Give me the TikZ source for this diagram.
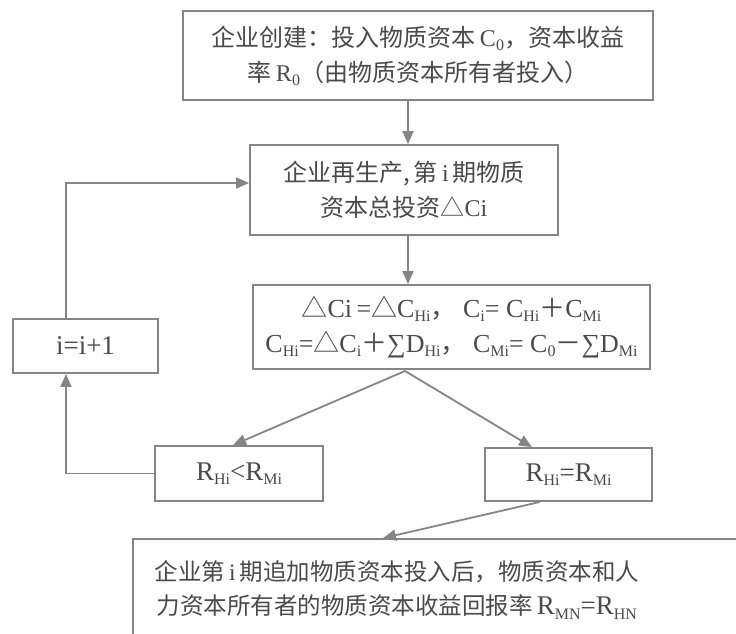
\documentclass[tikz,border=0pt]{standalone}
\usepackage{fontspec}
\setmainfont{Liberation Serif}
\newfontfamily\cjk{Noto Sans CJK SC}
\usetikzlibrary{arrows.meta}
\definecolor{ink}{HTML}{4A4A4A}
\definecolor{linec}{HTML}{858585}
\newcommand{\sbs}[1]{\raisebox{-0.35ex}{\fontsize{16}{16}\selectfont #1}}
\newcommand{\zh}[1]{{\cjk #1}}
\tikzset{
  box/.style={draw=linec, line width=1.8pt, text=ink, align=center, inner sep=0pt, font=\fontsize{24}{37}\selectfont},
  conn/.style={draw=linec, line width=1.8pt, -{Triangle[length=13pt,width=11pt]}},
}
\begin{document}
\begin{tikzpicture}[x=1pt,y=-1pt]
\clip (0,0) rectangle (736,633);
\fill[white] (0,0) rectangle (736,633);
\node[box, minimum width=470pt, minimum height=89pt] (b1) at (418,55.5)
  {\zh{企业创建：投入物质资本}\,C\sbs{0}\zh{，资本收益}\\[-2pt]\zh{率}\,R\sbs{0}\zh{（由物质资本所有者投入）}};
\node[box, minimum width=308pt, minimum height=90pt] (b2) at (404,190)
  {\zh{企业再生产,\,第}\,i\,\zh{期物质}\\[-2pt]\zh{资本总投资△}Ci};
\node[box, minimum width=397pt, minimum height=84pt, font=\fontsize{26}{35}\selectfont] (b3) at (451.5,327)
  {\zh{△}Ci\,=\zh{△}C\sbs{Hi}\zh{，}\ C\sbs{i}= C\sbs{Hi}\zh{＋}C\sbs{Mi}\\
   C\sbs{Hi}=\zh{△}C\sbs{i}\zh{＋}∑D\sbs{Hi}\zh{，}\ C\sbs{Mi}= C\sbs{0}\zh{－}∑D\sbs{Mi}};
\node[box, minimum width=145pt, minimum height=54pt, font=\fontsize{27}{30}\selectfont] (bi) at (85.5,346) {i=i+1};
\node[box, minimum width=168pt, minimum height=55pt, font=\fontsize{27}{30}\selectfont] (rl) at (239,473.5) {R\sbs{Hi}<R\sbs{Mi}};
\node[box, minimum width=167pt, minimum height=53pt, font=\fontsize{27}{30}\selectfont] (rr) at (568.5,474.5) {R\sbs{Hi}=R\sbs{Mi}};
\node[box, minimum width=612pt, minimum height=106pt] (b4) at (439,592) {};
\node[text=ink, align=center, inner sep=0pt, font=\fontsize{23.5}{36}\selectfont] (b4t) at (397,590)
  {\zh{企业第}\,i\,\zh{期追加物质资本投入后，物质资本和人}\\[-2pt]\zh{力资本所有者的物质资本收益回报率}\,{\fontsize{27}{36}\selectfont R\sbs{MN}=R\sbs{HN}}};
% connectors
\coordinate (split) at (405,371);
\draw[conn] (b1.south -| 408,0) -- (b2.north -| 408,0);
\draw[conn] (b2.south -| 408,0) -- (b3.north -| 408,0);
\draw[conn] (split) -- (rl.north -| 233,0);
\draw[conn] (split) -- (rr.north -| 532,0);
\draw[conn] (rl.west) -- (rl.west -| 66,0) -- (bi.south -| 66,0);
\draw[conn] (bi.north -| 66,0) -- (66,183) -- (b2.west |- 0,183);
\draw[conn] (rr.south -| 540,0) -- (b4.north -| 383,0);
\end{tikzpicture}
\end{document}
